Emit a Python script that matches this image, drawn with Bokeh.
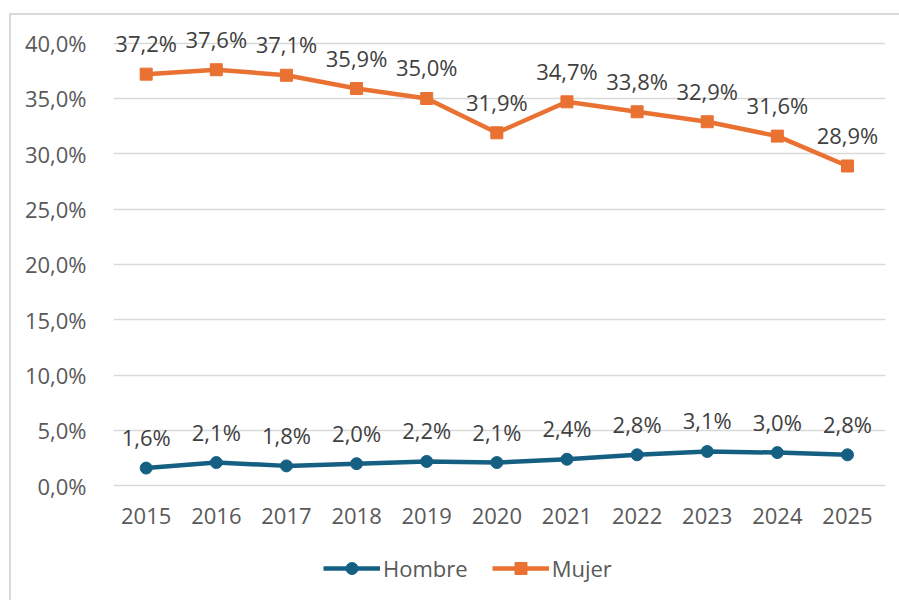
from bokeh.plotting import figure
from bokeh.layouts import column
from bokeh.models import Range1d, FixedTicker, CustomJSTickFormatter, Legend, LegendItem, ColumnDataSource
from bokeh.core.properties import value
from bokeh.embed import file_html
from bokeh.resources import INLINE

years = [2015, 2016, 2017, 2018, 2019, 2020, 2021, 2022, 2023, 2024, 2025]
hombre = [1.6, 2.1, 1.8, 2.0, 2.2, 2.1, 2.4, 2.8, 3.1, 3.0, 2.8]
mujer = [37.2, 37.6, 37.1, 35.9, 35.0, 31.9, 34.7, 33.8, 32.9, 31.6, 28.9]
y_ticks = [0, 5, 10, 15, 20, 25, 30, 35, 40]
series_names = ["Hombre", "Mujer"]


def fmt(v):
    return f"{v:.1f}%".replace(".", ",")


FONT = "Open Sans"
FS = "22px"
TICK_COLOR = "#595959"
LABEL_COLOR = "#404040"
C_H = "#156082"
C_M = "#E97132"
BORDER = "#d9d9d9"

src_h = ColumnDataSource(dict(x=years, y=hombre, t=[fmt(v) for v in hombre]))
src_m = ColumnDataSource(dict(x=years, y=mujer, t=[fmt(v) for v in mujer]))

p = figure(width=899, height=537,
           x_range=Range1d(2014.534, 2025.542), y_range=Range1d(-0.154, 42.5),
           output_backend="svg", toolbar_location=None,
           min_border_left=113, min_border_right=14, min_border_top=15, min_border_bottom=50)
p.border_fill_alpha = 0
p.outline_line_color = None
p.xgrid.visible = False
p.ygrid.grid_line_color = "#D9D9D9"
p.ygrid.grid_line_width = 1.5
p.ygrid.ticker = FixedTicker(ticks=y_ticks)

for ax in (p.xaxis[0], p.yaxis[0]):
    ax.axis_line_color = None
    ax.major_tick_line_color = None
    ax.minor_tick_line_color = None
    ax.major_label_text_font = FONT
    ax.major_label_text_font_size = FS
    ax.major_label_text_color = TICK_COLOR

p.xaxis.ticker = FixedTicker(ticks=years)
p.xaxis.major_label_standoff = 14
p.yaxis.ticker = FixedTicker(ticks=y_ticks)
p.yaxis.major_label_standoff = 21
p.yaxis.formatter = CustomJSTickFormatter(code="return tick.toFixed(1).replace('.', ',') + '%';")


def draw(fig):
    lh = fig.line("x", "y", source=src_h, line_color=C_H, line_width=4.5)
    sh = fig.scatter("x", "y", source=src_h, marker="circle", size=12, fill_color=C_H, line_color=C_H)
    lm = fig.line("x", "y", source=src_m, line_color=C_M, line_width=4.5)
    sm = fig.scatter("x", "y", source=src_m, marker="square", size=12, fill_color=C_M, line_color=C_M)
    return lh, sh, lm, sm


draw(p)
for src in (src_h, src_m):
    p.text("x", "y", text="t", source=src, y_offset=-31, text_align="center", text_baseline="middle",
           text_font=value(FONT), text_font_size=FS, text_color=LABEL_COLOR)

# legend strip below the chart (its own frame holds only the legend; the series lie outside its ranges)
pl = figure(width=899, height=63, x_range=Range1d(0, 1), y_range=Range1d(1000, 1001),
            x_axis_type=None, y_axis_type=None, output_backend="svg", toolbar_location=None,
            min_border_left=0, min_border_right=0, min_border_top=0, min_border_bottom=0)
pl.border_fill_alpha = 0
pl.background_fill_alpha = 0
pl.outline_line_color = None
pl.xgrid.visible = False
pl.ygrid.visible = False
l_h, s_h, l_m, s_m = draw(pl)

legend = Legend(items=[LegendItem(label=series_names[0], renderers=[l_h, s_h]),
                       LegendItem(label=series_names[1], renderers=[l_m, s_m])],
                orientation="horizontal", location=(210, 17),
                border_line_color=None, background_fill_alpha=0, padding=0, margin=0,
                spacing=24, label_standoff=3, glyph_width=57, glyph_height=30,
                label_text_font=FONT, label_text_font_size=FS, label_text_color=TICK_COLOR)
pl.add_layout(legend)

layout = column(p, pl, spacing=0,
                styles={"background-image": f"linear-gradient({BORDER},{BORDER}), linear-gradient({BORDER},{BORDER})",
                        "background-position": "9px 13px, 9px 13px",
                        "background-size": "100% 2px, 2px 100%",
                        "background-repeat": "no-repeat"})
open("out.html", "w").write(file_html(layout, INLINE))
